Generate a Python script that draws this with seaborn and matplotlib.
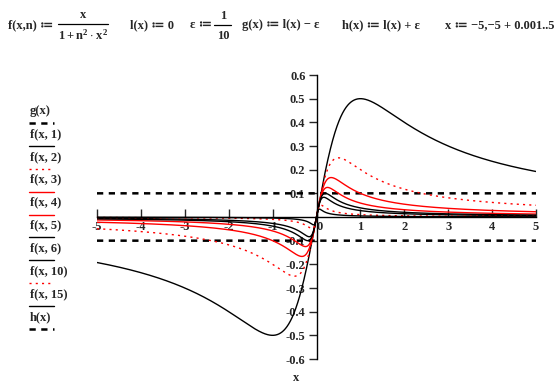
import numpy as np
import pandas as pd
import seaborn as sns
import matplotlib.pyplot as plt
from matplotlib.lines import Line2D

# worksheet definitions
n_values = [1, 2, 3, 4, 5, 6, 10, 15]
eps = 1 / 10
x_start, x_step, x_end = -5, 0.001, 5

# axis ticks
x_ticks = [-5, -4, -3, -2, -1, 0, 1, 2, 3, 4, 5]
y_ticks = [-0.6, -0.5, -0.4, -0.3, -0.2, -0.1, 0.1, 0.2, 0.3, 0.4, 0.5, 0.6]

# trace styles, in the order of the legend
n_colors = ["black", "red", "red", "red", "black", "black", "red", "black"]
n_dotted = [False, True, False, False, False, False, True, False]

sns.set_style("white")
plt.rcParams["font.family"] = ["Liberation Serif", "DejaVu Serif"]
plt.rcParams["font.weight"] = "bold"
plt.rcParams["mathtext.fontset"] = "custom"
plt.rcParams["mathtext.rm"] = "Liberation Serif:bold"
plt.rcParams["mathtext.it"] = "Liberation Serif:bold"
plt.rcParams["mathtext.bf"] = "Liberation Serif:bold"

x = np.arange(x_start, x_end + x_step / 2, x_step)
l = np.zeros_like(x)
curves = {"g(x)": l - eps, "h(x)": l + eps}
for n in n_values:
    curves["f(x, %d)" % n] = x / (1 + n**2 * x**2)

W, H = 555, 391
fig = plt.figure(figsize=(W / 100, H / 100), dpi=100)
ax = fig.add_axes([97 / W, 1 - 359 / H, (536 - 97) / W, (359 - 75) / H])

dash_style = (0, (2.5, 2.2))
dot_style = (0, (1.5, 3))

for key in ["g(x)", "h(x)"]:
    sns.lineplot(x=x, y=curves[key], ax=ax, color="black", lw=1.8,
                 linestyle=dash_style, estimator=None, sort=False)
for n, c, d in zip(n_values, n_colors, n_dotted):
    sns.lineplot(x=x, y=curves["f(x, %d)" % n], ax=ax, color=c, lw=1.0,
                 linestyle=dot_style if d else "-", estimator=None, sort=False)

ax.set_xlim(-5, 5)
ax.set_ylim(-0.6, 0.6)
ax.spines["left"].set_position(("data", 0))
ax.spines["bottom"].set_position(("data", 0))
ax.spines["top"].set_visible(False)
ax.spines["right"].set_visible(False)
for s in ["left", "bottom"]:
    ax.spines[s].set_linewidth(1.0)
    ax.spines[s].set_color("black")
ax.set_xticks(x_ticks)
ax.set_xticklabels([str(t) for t in x_ticks], fontweight="bold")
ax.set_yticks(y_ticks)
ax.set_yticklabels([("%.1f" % t) for t in y_ticks], fontweight="bold")
ax.tick_params(axis="x", direction="in", length=6, width=1, labelsize=9, pad=3)
ax.tick_params(axis="y", direction="out", length=6, width=1, labelsize=9, pad=2)
ax.tick_params(left=True, bottom=True)
for lab in ax.get_xticklabels():
    if lab.get_text() == "0":
        lab.set_horizontalalignment("left")
ax.set_xlabel("")
ax.set_ylabel("")
ax.patch.set_alpha(0)

fig.text(296 / W, 1 - 378 / H, "x", ha="center", va="center", fontsize=9, weight="bold")

# legend on the left: label above its line sample
legend_keys = ["g(x)"] + ["f(x, %d)" % n for n in n_values] + ["h(x)"]
legend_colors = ["black"] + n_colors + ["black"]
legend_styles = [dash_style] + [dot_style if d else "-" for d in n_dotted] + [dash_style]
legend_lw = [1.8] + [1.0] * len(n_values) + [1.8]
for i, (k, c, ls, lw) in enumerate(zip(legend_keys, legend_colors, legend_styles, legend_lw)):
    ty = 111 + i * 22.9
    fig.text(30 / W, 1 - ty / H, k, ha="left", va="center", fontsize=9, weight="bold")
    ly = 1 - (ty + 12) / H
    fig.add_artist(Line2D([29 / W, 54 / W], [ly, ly], color=c, lw=lw, linestyle=ls))

# worksheet header
def t(px, py, s, ha="left", size=9):
    fig.text(px / W, 1 - py / H, s, ha=ha, va="center", fontsize=size, weight="bold")

def bar(x0, x1, py):
    fig.add_artist(Line2D([x0 / W, x1 / W], [1 - py / H, 1 - py / H], color="black", lw=0.9))

t(8, 25, "f(x,n) ≔")
t(83, 15, "x", ha="center")
bar(58, 108, 24)
t(83, 35, r"$1 + n^{2}\cdot x^{2}$", ha="center")
t(130, 25, "l(x) ≔ 0")
t(190, 25, "ε ≔")
t(223, 16, "1", ha="center")
bar(214, 231, 25)
t(223, 36, "10", ha="center")
t(242, 25, "g(x) ≔ l(x) − ε")
t(342, 25, "h(x) ≔ l(x) + ε")
t(445, 25, "x ≔ −5,−5 + 0.001..5")

fig.savefig("out.png", dpi=100)
